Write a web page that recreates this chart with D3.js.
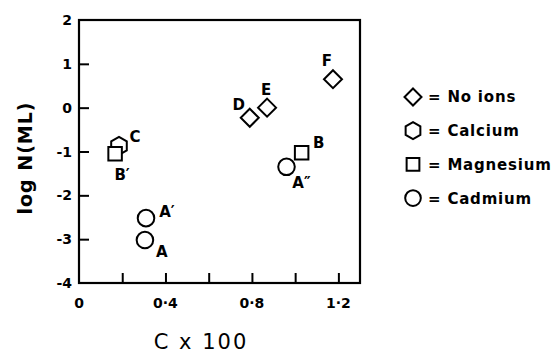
<!DOCTYPE html>
<html>
<head>
<meta charset="utf-8">
<script src="https://cdn.jsdelivr.net/npm/d3@7"></script>
<style>
  body { margin: 0; background: #fff; }
  text { font-family: "DejaVu Sans", sans-serif; fill: #000; }
</style>
</head>
<body>
<svg id="drawing_region"></svg>
<script>
// values
const pointLabels = ["C", "B\u2032", "A\u2032", "A", "D", "E", "F", "A\u2033", "B"];
const pointIons   = ["Calcium", "Magnesium", "Cadmium", "Cadmium", "No ions", "No ions", "No ions", "Cadmium", "Magnesium"];
const pointX      = [0.185, 0.167, 0.31, 0.305, 0.79, 0.87, 1.175, 0.96, 1.03];
const pointY      = [-0.87, -1.05, -2.52, -3.02, -0.23, 0.0, 0.65, -1.35, -1.03];

const ionNames = ["No ions", "Calcium", "Magnesium", "Cadmium"];

const xTickValues = [0, 0.2, 0.4, 0.6, 0.8, 1.0, 1.2];
const xTickLabels = ["0", "", "0\u00b74", "", "0\u00b78", "", "1\u00b72"];
const yTickValues = [-4, -3, -2, -1, 0, 1, 2];
const yTickLabels = ["-4", "-3", "-2", "-1", "0", "1", "2"];

// where each letter sits next to its marker (px)
const labelOffset = {
    "C": [16, -9], "B\u2032": [7, 21], "A\u2032": [21, -7], "A": [17, 12],
    "D": [-11, -13], "E": [-1, -18], "F": [-6, -19], "A\u2033": [15, 16], "B": [17, -10]
};

const config = {
    width: 560,
    height: 354,
    margin: { top: 20, right: 200, bottom: 71, left: 79 }
};

const data = pointX.map((x, i) => ({ x: x, y: pointY[i], ion: pointIons[i], label: pointLabels[i] }));

// marker shapes, centred on 0,0
function shapePath(ion, s) {
    const p = d3.path();
    if (ion == "No ions") {
        p.moveTo(0, -s); p.lineTo(s, 0); p.lineTo(0, s); p.lineTo(-s, 0); p.closePath();
    } else if (ion == "Calcium") {
        for (let k = 0; k < 6; k++) {
            const a = Math.PI / 3 * k - Math.PI / 2;
            if (k == 0) p.moveTo(s * Math.cos(a), s * Math.sin(a));
            else p.lineTo(s * Math.cos(a), s * Math.sin(a));
        }
        p.closePath();
    } else if (ion == "Magnesium") {
        const h = s * 0.75;
        p.rect(-h, -h, 2 * h, 2 * h);
    } else {
        p.arc(0, 0, s * 0.92, 0, 2 * Math.PI);
    }
    return p.toString();
}

const svg = d3.select('#drawing_region')
    .attr('width', config.width)
    .attr('height', config.height);

const inner_width = config.width - config.margin.left - config.margin.right;
const inner_height = config.height - config.margin.top - config.margin.bottom;

const chart = svg.append('g')
    .attr('transform', `translate(${config.margin.left},${config.margin.top})`);

const xscale = d3.scaleLinear().domain([0, 1.3]).range([0, inner_width]);
const yscale = d3.scaleLinear().domain([-4, 2]).range([inner_height, 0]);

// ticks point inward, labels drawn separately
const xaxis = d3.axisTop(xscale)
    .tickValues(xTickValues.filter(v => v > 0))
    .tickSize(10)
    .tickSizeOuter(0)
    .tickFormat('');
const yaxis = d3.axisRight(yscale)
    .tickValues(yTickValues.filter(v => v > -4 && v < 2))
    .tickSize(10)
    .tickSizeOuter(0)
    .tickFormat('');

chart.append('g')
    .attr('transform', `translate(0,${inner_height})`)
    .call(xaxis)
    .call(g => g.select('.domain').remove())
    .selectAll('line').attr('stroke', '#000').attr('stroke-width', 2);
chart.append('g')
    .call(yaxis)
    .call(g => g.select('.domain').remove())
    .selectAll('line').attr('stroke', '#000').attr('stroke-width', 2);

chart.append('rect')
    .attr('width', inner_width)
    .attr('height', inner_height)
    .attr('fill', 'none')
    .attr('stroke', '#000')
    .attr('stroke-width', 2.2);

chart.selectAll('.xlab').data(xTickValues).enter()
    .append('text')
    .attr('x', d => xscale(d))
    .attr('y', inner_height + 25)
    .attr('text-anchor', 'middle')
    .attr('font-size', 14)
    .attr('font-weight', 'bold')
    .text((d, i) => xTickLabels[i]);

chart.selectAll('.ylab').data(yTickValues).enter()
    .append('text')
    .attr('x', -7)
    .attr('y', d => yscale(d))
    .attr('dy', '0.36em')
    .attr('text-anchor', 'end')
    .attr('font-size', 14)
    .attr('font-weight', 'bold')
    .text((d, i) => yTickLabels[i]);

svg.append('text')
    .attr('x', config.margin.left + 122)
    .attr('y', 349)
    .attr('text-anchor', 'middle')
    .attr('font-size', 21)
    .attr('letter-spacing', 2)
    .text('C x 100');

svg.append('text')
    .attr('transform', 'translate(32,158) rotate(-90)')
    .attr('text-anchor', 'middle')
    .attr('font-size', 19)
    .attr('font-weight', 'bold')
    .attr('letter-spacing', 1)
    .text('log N(ML)');

// points
chart.selectAll('.pt').data(data).enter()
    .append('path')
    .attr('transform', d => `translate(${xscale(d.x)},${yscale(d.y)})`)
    .attr('d', d => shapePath(d.ion, 9))
    .attr('fill', '#fff')
    .attr('stroke', '#000')
    .attr('stroke-width', 2);

chart.selectAll('.ptlab').data(data).enter()
    .append('text')
    .attr('x', d => xscale(d.x) + labelOffset[d.label][0])
    .attr('y', d => yscale(d.y) + labelOffset[d.label][1])
    .attr('dy', '0.36em')
    .attr('text-anchor', 'middle')
    .attr('font-size', 15)
    .attr('font-weight', 'bold')
    .text(d => d.label);

// legend
const legend = svg.append('g').attr('transform', 'translate(413,97)');
const row = legend.selectAll('g').data(ionNames).enter()
    .append('g')
    .attr('transform', (d, i) => `translate(0,${i * 33.7})`);
row.append('path')
    .attr('d', d => shapePath(d, 8.5))
    .attr('fill', '#fff')
    .attr('stroke', '#000')
    .attr('stroke-width', 2);
row.append('text')
    .attr('x', 15)
    .attr('dy', '0.36em')
    .attr('font-size', 15)
    .attr('font-weight', 'bold')
    .attr('letter-spacing', 0.8)
    .text(d => '= ' + d);
</script>
</body>
</html>
